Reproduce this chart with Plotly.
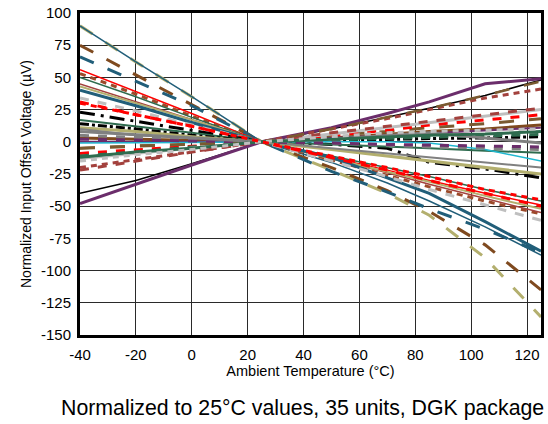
import plotly.graph_objects as go

temps = [-40, -20, 0, 25, 50, 70, 85, 105, 125]

OLIVE = "#B3AF6E"
TEAL = "#215E79"
BROWN = "#7F4A1F"
SIENNA = "#9C4A2A"
ROSY = "#A3413D"
RED = "#FF0000"
GREEN = "#2E6B4E"
BLACK = "#000000"
GRAY = "#808080"
LGRAY = "#BFBFBF"
PURPLE = "#6B2D6B"
CYAN = "#1FB8D0"
DBROWN = "#7A5A30"

# unit values (µV) at each temperature, normalized to 25 °C
u01 = [90, 62, 35, 0, -22, -40, -57, -90, -136]
u02 = [90, 62, 35, 0, -16, -32, -46, -66, -88]
u03 = [75, 52, 29, 0, -20, -38, -54, -80, -115]
u04 = [66, 47, 28, 0, -23, -39, -52, -68, -86]
u05 = [56, 39, 22, 0, -12, -22, -30, -40, -49]
u06 = [53, 37, 20, 0, -14, -26, -35, -46, -56]
u07 = [50, 35, 19, 0, -11, -20, -27, -37, -46]
u08 = [45, 31, 17, 0, -13, -24, -33, -44, -55]
u09 = [43, 30, 17, 0, -13, -23, -31, -42, -52]
u10 = [40, 28, 15, 0, -12, -28, -40, -62, -85]
u11 = [34, 24, 13, 0, -15, -27, -37, -49, -61]
u12 = [31, 21, 12, 0, -12, -22, -30, -40, -50]
u13 = [23, 16, 9, 0, -2, -5, -16, -21, -28]
u14 = [17, 12, 7, 0, -2, -4, -5, -7, -8.5]
u15 = [14, 10, 5, 0, 1, 2, 2.5, 3, 4]
u16 = [11, 8, 4, 0, -6, -11, -15, -20, -25]
u17 = [10, 5, 3, 0, -5, -9, -12, -16, -20]
u18 = [3, 2, 1, 0, 3, 6, 8, 10, 13]
u19 = [0, 0, 0, 0, 3, 5, 7, 9, 11]
u20 = [-1, -1, -0.5, 0, 0, 0, -1, -6, -15]
u21 = [-5, -3.5, -2, 0, 5, 8, 11, 14, 18]
u22 = [-9, -6, -3.5, 0, 5, 9, 13, 17, 21]
u23 = [-11, -8, -4, 0, 1.5, 2.5, 3.5, 4.5, 5.7]
u24 = [-13, -9, -5, 0, 6, 11, 15, 20, 25]
u25 = [-22, -15, -8, 0, 7, 12, 16, 21, 26]
u26 = [-40, -30, -17, 0, 10, 19, 26, 36, 48]
u27 = [-48, -33, -18, 0, 11, 22, 31, 45, 49]
u28 = [-20, -14, -8, 0, 10, 18, 25, 34, 41]
u29 = [-5, -3, -2, 0, 10, 19, 26, 36, 47]
u30 = [5, 3.5, 2, 0, -1, -3, -4, -5, -6]
u31 = [2, 1.4, 0.8, 0, -1, -2, -2.5, -3, -4]
u32 = [8, 5.5, 3, 0, 2, 5, 7, 3, -1]
u33 = [-12, -8, -5, 0, 2, 4, 5, 6, 8]
u34 = [-15, -10, -6, 0, 4, 7, 8, 9, 10]
u35 = [30, 21, 12, 0, -11, -20, -27, -37, -45]

units = [
    (u01, OLIVE, "longdash", 3), (u02, TEAL, "solid", 1.5),
    (u03, BROWN, "longdash", 3), (u04, TEAL, "longdash", 3),
    (u05, RED, "solid", 1.5), (u06, SIENNA, "6px,5px", 3),
    (u07, GREEN, "solid", 1.5), (u08, ROSY, "solid", 1.5),
    (u09, OLIVE, "solid", 2), (u10, TEAL, "solid", 3),
    (u11, LGRAY, "dash", 3), (u12, RED, "dash", 3),
    (u13, BLACK, "longdashdot", 3), (u14, GREEN, "solid", 2),
    (u15, BLACK, "dashdot", 3), (u16, OLIVE, "solid", 3),
    (u17, GRAY, "solid", 2), (u18, BROWN, "solid", 3),
    (u19, PURPLE, "solid", 2), (u20, CYAN, "solid", 1.5),
    (u21, DBROWN, "longdash", 3), (u22, RED, "dash", 3),
    (u23, GREEN, "dash", 3), (u24, LGRAY, "solid", 3),
    (u25, ROSY, "dash", 3), (u26, BLACK, "solid", 1.5),
    (u27, PURPLE, "solid", 3), (u28, ROSY, "6px,5px", 3),
    (u29, DBROWN, "longdash", 2.5), (u30, GRAY, "dash", 3),
    (u31, PURPLE, "dash", 3), (u32, GRAY, "solid", 3),
    (u33, GREEN, "solid", 3), (u34, LGRAY, "6px,5px", 3),
    (u35, RED, "6px,5px", 3),
]

x_ticks = [-40, -20, 0, 20, 40, 60, 80, 100, 120]
x_labels = ["-40", "-20", "0", "20", "40", "60", "80", "100", "120"]
y_ticks = [-150, -125, -100, -75, -50, -25, 0, 25, 50, 75, 100]
y_labels = ["-150", "-125", "-100", "-75", "-50", "-25", "0", "25", "50", "75", "100"]

fig = go.Figure()
for vals, color, dash, width in units:
    fig.add_trace(go.Scatter(x=temps, y=vals, mode="lines",
                             line=dict(color=color, dash=dash, width=width),
                             showlegend=False, hoverinfo="skip"))

FONT = "Liberation Sans, Arial, sans-serif"
fig.update_layout(
    width=548, height=424,
    margin=dict(l=80, r=4, t=11, b=89),
    paper_bgcolor="white", plot_bgcolor="white",
    font=dict(family=FONT, color="black", size=15),
    xaxis=dict(range=[-40, 125], tickvals=x_ticks, ticktext=x_labels, showgrid=True,
               gridcolor="#2a2a2a", gridwidth=1, zeroline=False,
               showline=True, linecolor="black", linewidth=3, mirror=True,
               ticks="", tickfont=dict(size=15), ticklabelstandoff=4,
               title=dict(text="Ambient Temperature (°C)", font=dict(size=14.5), standoff=1)),
    yaxis=dict(range=[-150, 100], tickvals=y_ticks, ticktext=y_labels, showgrid=True,
               gridcolor="#2a2a2a", gridwidth=1, zeroline=False,
               showline=True, linecolor="black", linewidth=3, mirror=True,
               ticks="", tickfont=dict(size=15), ticklabelstandoff=3,
               title=dict(text="Normalized Input Offset Voltage (µV)", font=dict(size=14), standoff=7)),
    annotations=[dict(text="Normalized to 25°C values, 35 units, DGK package",
                      xref="paper", yref="paper", x=0.483, y=-0.228,
                      xanchor="center", yanchor="middle", showarrow=False,
                      font=dict(size=21.3, family=FONT))],
)

fig.write_html("out.html", config={"displayModeBar": False})

with open("out.html", encoding="utf-8") as f:
    html = f.read()
html = html.replace("<head>", "<head><style>html,body{margin:0;padding:0;overflow:hidden;}</style>", 1)
with open("out.html", "w", encoding="utf-8") as f:
    f.write(html)
